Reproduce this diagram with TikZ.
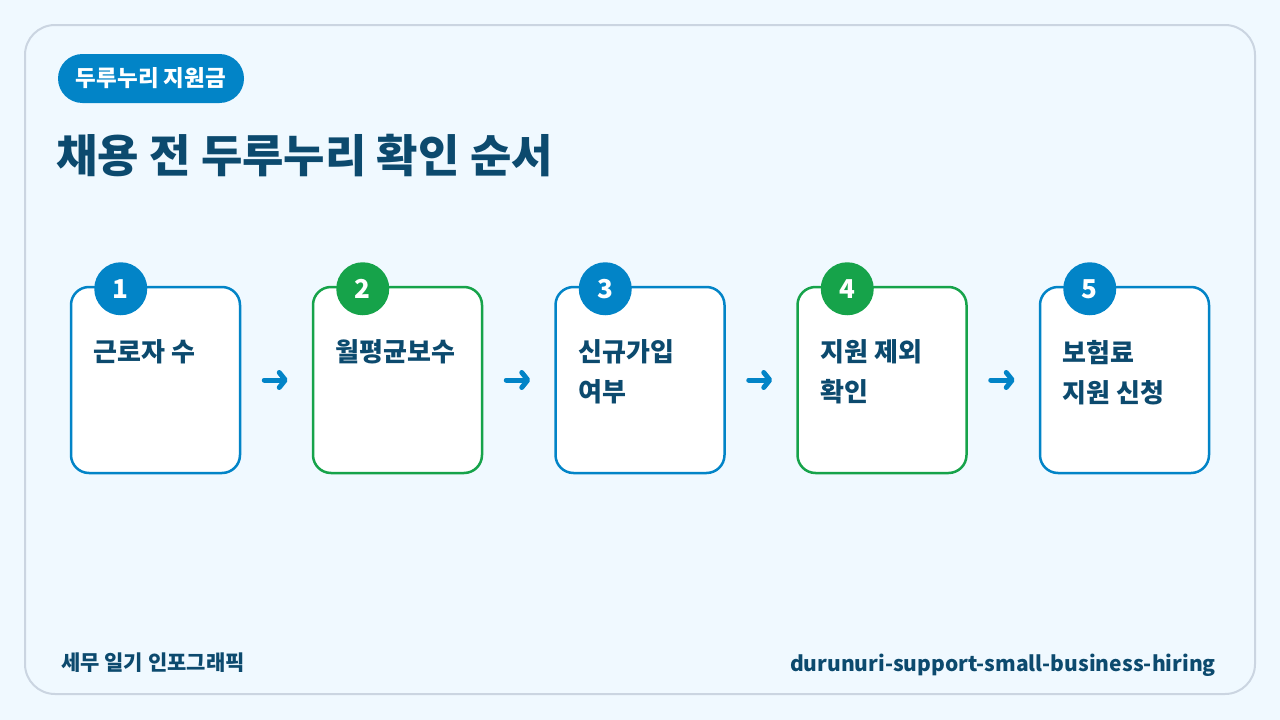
\documentclass[tikz,border=0pt]{standalone}
\usepackage{fontspec}
\setmainfont{Noto Sans CJK KR}
\usetikzlibrary{arrows.meta}
\definecolor{pagebg}{HTML}{F0F9FF}
\definecolor{panelline}{HTML}{CBD5E1}
\definecolor{skyblue}{HTML}{0284C7}
\definecolor{leafgreen}{HTML}{16A34A}
\definecolor{navy}{HTML}{0C4A6E}
\tikzset{
  cardbox/.style={draw=#1, line width=2.5pt, fill=white, rounded corners=18pt,
    minimum width=169pt, minimum height=186pt, inner sep=0pt},
  numdot/.style={circle, fill=#1, minimum size=53pt, inner sep=0pt,
    text=white, font=\bfseries\fontsize{26}{26}\selectfont},
  cardtext/.style={anchor=north west, inner sep=0pt, align=left, text=navy,
    font=\bfseries\fontsize{26}{40}\selectfont},
  flow/.style={draw=skyblue, line width=5pt, line cap=round,
    -{Straight Barb[round, length=6pt, width=15pt, line width=5pt]},
    shorten <=23pt, shorten >=24pt},
}
\begin{document}
\begin{tikzpicture}[x=1pt, y=-1pt]
  \useasboundingbox (0,0) rectangle (1280,720);
  \fill[pagebg] (0,0) rectangle (1280,720);
  % outer panel
  \draw[panelline, line width=2pt, fill=pagebg, rounded corners=30pt] (25,25) rectangle (1255,694);

  % badge and heading
  \node (badge) [fill=skyblue, rounded corners=24.5pt, minimum width=186pt, minimum height=49pt,
    inner sep=0pt, text=white, font=\bfseries\fontsize{22.5}{22.5}\selectfont] at (151,78.5) {두루누리 지원금};
  \node (title) [anchor=base west, inner sep=0pt, text=navy, font=\bfseries\fontsize{45}{45}\selectfont]
    at (56,172) {채용 전 두루누리 확인 순서};

  % step cards
  \node (c1) [cardbox=skyblue]   at (155.5,380) {};
  \node (c2) [cardbox=leafgreen] at (397.5,380) {};
  \node (c3) [cardbox=skyblue]   at (640,380) {};
  \node (c4) [cardbox=leafgreen] at (882,380) {};
  \node (c5) [cardbox=skyblue]   at (1124.5,380) {};

  % number badges
  \node (n1) [numdot=skyblue]   at ([shift={(51pt,-3pt)}]c1.north west) {1};
  \node (n2) [numdot=leafgreen] at ([shift={(51pt,-3pt)}]c2.north west) {2};
  \node (n3) [numdot=skyblue]   at ([shift={(51pt,-3pt)}]c3.north west) {3};
  \node (n4) [numdot=leafgreen] at ([shift={(51pt,-3pt)}]c4.north west) {4};
  \node (n5) [numdot=skyblue]   at ([shift={(51pt,-3pt)}]c5.north west) {5};

  % card labels
  \node (t1) [cardtext] at ([shift={(24pt,-54pt)}]c1.north west) {근로자 수};
  \node (t2) [cardtext] at ([shift={(24pt,-54pt)}]c2.north west) {월평균보수};
  \node (t3) [cardtext] at ([shift={(24pt,-54pt)}]c3.north west) {신규가입\\여부};
  \node (t4) [cardtext] at ([shift={(24pt,-54pt)}]c4.north west) {지원 제외\\확인};
  \node (t5) [cardtext] at ([shift={(24pt,-54pt)}]c5.north west) {보험료\\지원 신청};

  % flow arrows
  \draw[flow] (c1.east) -- (c2.west);
  \draw[flow] (c2.east) -- (c3.west);
  \draw[flow] (c3.east) -- (c4.west);
  \draw[flow] (c4.east) -- (c5.west);

  % footer
  \node (foot) [anchor=base west, inner sep=0pt, text=navy, font=\bfseries\fontsize{21}{21}\selectfont]
    at (61,670) {세무 일기 인포그래픽};
  \node (slug) [anchor=base east, inner sep=0pt, text=navy, font=\bfseries\fontsize{21}{21}\selectfont]
    at (1216,671) {durunuri-support-small-business-hiring};
\end{tikzpicture}
\end{document}
